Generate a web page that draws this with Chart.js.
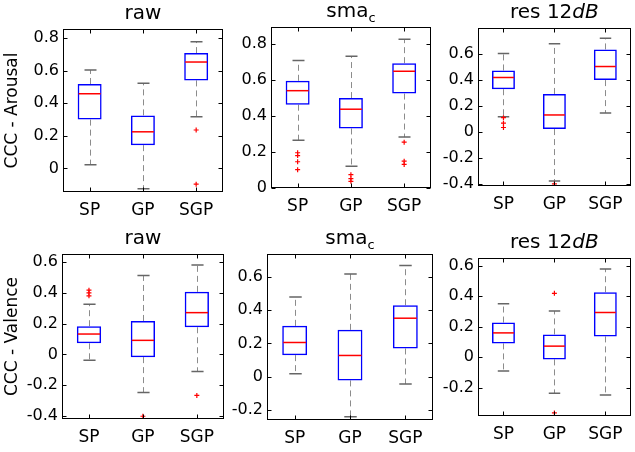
<!DOCTYPE html>
<html>
<head>
<meta charset="utf-8">
<script src="https://cdn.jsdelivr.net/npm/chart.js@4/dist/chart.umd.min.js"></script>
<style>
  body { margin: 0; background: #fff; }
  #wrap { position: relative; width: 635px; height: 452px; overflow: hidden; }
  #wrap canvas { position: absolute; }
</style>
</head>
<body>
<div id="wrap"></div>
<script>
const categories = ['SP', 'GP', 'SGP'];

// per category: [lower whisker, q1, median, q3, upper whisker]
const rawArousal = [[0.022, 0.300, 0.459, 0.519, 0.605], [-0.125, 0.143, 0.225, 0.326, 0.523], [0.317, 0.541, 0.654, 0.709, 0.779]];
const rawArousalOut = [[], [], [0.236, -0.097]];

const smaArousal = [[0.265, 0.463, 0.541, 0.596, 0.709], [0.121, 0.331, 0.438, 0.500, 0.732], [0.283, 0.525, 0.649, 0.694, 0.827]];
const smaArousalOut = [[0.196, 0.180, 0.146, 0.102], [0.074, 0.052, 0.037], [0.255, 0.149, 0.131]];

const resArousal = [[0.118, 0.328, 0.418, 0.472, 0.602], [-0.375, 0.023, 0.131, 0.292, 0.677], [0.146, 0.398, 0.502, 0.633, 0.718]];
const resArousalOut = [[0.110, 0.068, 0.035], [-0.397], []];

const rawValence = [[-0.039, 0.072, 0.132, 0.183, 0.326], [-0.248, -0.018, 0.091, 0.217, 0.512], [-0.111, 0.176, 0.271, 0.406, 0.580]];
const rawValenceOut = [[0.417, 0.400, 0.380], [-0.402], [-0.267]];

const smaValence = [[0.018, 0.130, 0.206, 0.306, 0.480], [-0.240, -0.022, 0.128, 0.282, 0.618], [-0.044, 0.170, 0.352, 0.430, 0.669]];
const smaValenceOut = [[], [], []];

const resValence = [[-0.092, 0.090, 0.159, 0.227, 0.350], [-0.238, -0.015, 0.072, 0.149, 0.303], [-0.249, 0.136, 0.293, 0.426, 0.579]];
const resValenceOut = [[], [0.419, -0.367], []];

const FONT = 'DejaVu Sans';

// title pieces: plain, subscript or italic
const titleRaw = [{ text: 'raw' }];
const titleSma = [{ text: 'sma' }, { text: 'c', sub: true }];
const titleRes = [{ text: 'res 12' }, { text: 'dB', italic: true }];

const panels = [
  { stats: rawArousal, out: rawArousalOut, title: titleRaw, yTitle: 'CCC - Arousal', min: -0.145, max: 0.857, area: [63, 29, 226, 192] },
  { stats: smaArousal, out: smaArousalOut, title: titleSma, min: 0, max: 0.895, area: [271, 27, 434, 188] },
  { stats: resArousal, out: resArousalOut, title: titleRes, min: -0.413, max: 0.797, area: [478, 28, 634, 186] },
  { stats: rawValence, out: rawValenceOut, title: titleRaw, yTitle: 'CCC - Valence', min: -0.42, max: 0.652, area: [62, 254, 227, 419] },
  { stats: smaValence, out: smaValenceOut, title: titleSma, min: -0.26, max: 0.738, area: [267, 254, 433, 420] },
  { stats: resValence, out: resValenceOut, title: titleRes, min: -0.387, max: 0.651, area: [478, 258, 634, 416] }
];

const TOP = 32, BOTTOM = 34;

const boxPlot = {
  id: 'boxPlot',
  beforeDatasetsDraw(chart, args, opts) {
    const { ctx, scales: { y } } = chart;
    const bars = chart.getDatasetMeta(0).data;
    ctx.save();
    opts.stats.forEach((s, i) => {
      const cx = Math.round(bars[i].x) + 0.5;
      const cap = bars[i].width / 4;
      // dashed whiskers
      ctx.strokeStyle = '#8c8c8c';
      ctx.lineWidth = 1;
      ctx.setLineDash([6, 4]);
      ctx.beginPath();
      ctx.moveTo(cx, y.getPixelForValue(s[3]));
      ctx.lineTo(cx, y.getPixelForValue(s[4]));
      ctx.moveTo(cx, y.getPixelForValue(s[1]));
      ctx.lineTo(cx, y.getPixelForValue(s[0]));
      ctx.stroke();
      // whisker caps
      ctx.setLineDash([]);
      ctx.strokeStyle = '#666';
      ctx.lineWidth = 1.5;
      ctx.beginPath();
      [s[0], s[4]].forEach(v => {
        const py = y.getPixelForValue(v);
        ctx.moveTo(cx - cap, py);
        ctx.lineTo(cx + cap, py);
      });
      ctx.stroke();
    });
    ctx.restore();
  },
  afterDatasetsDraw(chart, args, opts) {
    const { ctx, scales: { y } } = chart;
    const bars = chart.getDatasetMeta(0).data;
    ctx.save();
    ctx.strokeStyle = '#ff0000';
    ctx.lineWidth = 1.5;
    opts.stats.forEach((s, i) => {
      const half = bars[i].width / 2 - 1;
      const py = y.getPixelForValue(s[2]);
      ctx.beginPath();
      ctx.moveTo(bars[i].x - half, py);
      ctx.lineTo(bars[i].x + half, py);
      ctx.stroke();
    });
    ctx.restore();
  },
  afterDraw(chart, args, opts) {
    const { ctx, chartArea: a, scales: { x, y } } = chart;
    const l = Math.round(a.left) + 0.5, r = Math.round(a.right) - 0.5;
    const t = Math.round(a.top) + 0.5, b = Math.round(a.bottom) - 0.5;
    ctx.save();
    ctx.strokeStyle = '#000';
    ctx.lineWidth = 1;
    ctx.strokeRect(l, t, r - l, b - t);
    // inward tick marks on all four sides
    ctx.beginPath();
    y.ticks.forEach(tk => {
      const py = Math.round(y.getPixelForValue(tk.value)) + 0.5;
      ctx.moveTo(l, py); ctx.lineTo(l + 4, py);
      ctx.moveTo(r, py); ctx.lineTo(r - 4, py);
    });
    categories.forEach((c, i) => {
      const px = Math.round(x.getPixelForValue(i)) + 0.5;
      ctx.moveTo(px, b); ctx.lineTo(px, b - 4);
      ctx.moveTo(px, t); ctx.lineTo(px, t + 4);
    });
    ctx.stroke();

    // title with subscript / italic parts
    const parts = opts.title.map(p => ({
      ...p,
      font: p.sub ? `13px "${FONT}"` : (p.italic ? `italic 20px "${FONT}"` : `20px "${FONT}"`)
    }));
    let total = 0;
    parts.forEach(p => { ctx.font = p.font; p.w = ctx.measureText(p.text).width; total += p.w; });
    let px = (a.left + a.right) / 2 - total / 2;
    const base = a.top - 10.5;
    ctx.fillStyle = '#000';
    ctx.textBaseline = 'alphabetic';
    ctx.textAlign = 'left';
    parts.forEach(p => {
      ctx.font = p.font;
      ctx.fillText(p.text, px, base + (p.sub ? 5 : 0));
      px += p.w;
    });
    ctx.restore();
  }
};

const wrap = document.getElementById('wrap');

panels.forEach(p => {
  const [l, t, r, b] = p.area;
  const padL = p.yTitle ? l : 46;
  const cv = document.createElement('canvas');
  const left = l - padL, top = t - TOP;
  cv.width = r - left + 2;
  cv.height = b - top + BOTTOM;
  cv.style.left = left + 'px';
  cv.style.top = top + 'px';
  wrap.appendChild(cv);

  const outliers = [];
  p.out.forEach((vals, i) => vals.forEach(v => outliers.push({ x: categories[i], y: v })));

  new Chart(cv, {
    type: 'bar',
    data: {
      labels: categories,
      datasets: [{
        data: p.stats.map(s => [s[1], s[3]]),
        backgroundColor: 'rgba(0,0,0,0)',
        borderColor: '#0000ff',
        borderWidth: 1.5,
        borderSkipped: false,
        barPercentage: 0.45,
        categoryPercentage: 1
      }, {
        type: 'line',
        data: outliers,
        showLine: false,
        pointStyle: 'cross',
        pointRadius: 2.5,
        pointBorderColor: '#ff0000',
        pointBorderWidth: 1.2
      }]
    },
    plugins: [boxPlot],
    options: {
      responsive: false,
      animation: false,
      layout: { padding: { top: TOP, right: 2, left: 0, bottom: 0 } },
      plugins: {
        legend: { display: false },
        tooltip: { enabled: false },
        boxPlot: { stats: p.stats, title: p.title }
      },
      scales: {
        x: {
          grid: { display: false, drawTicks: false },
          border: { display: false },
          ticks: { color: '#000', padding: 8, font: { family: FONT, size: 17 } },
          afterFit(scale) { scale.height = BOTTOM; }
        },
        y: {
          min: p.min,
          max: p.max,
          grid: { display: false, drawTicks: false },
          border: { display: false },
          ticks: { stepSize: 0.2, includeBounds: false, color: '#000', padding: 4, font: { family: FONT, size: 16 } },
          title: { display: !!p.yTitle, text: p.yTitle || '', color: '#000', font: { family: FONT, size: 17 }, padding: { top: 2, bottom: 0 } },
          afterFit(scale) { scale.width = padL; }
        }
      }
    }
  });
});
</script>
</body>
</html>
